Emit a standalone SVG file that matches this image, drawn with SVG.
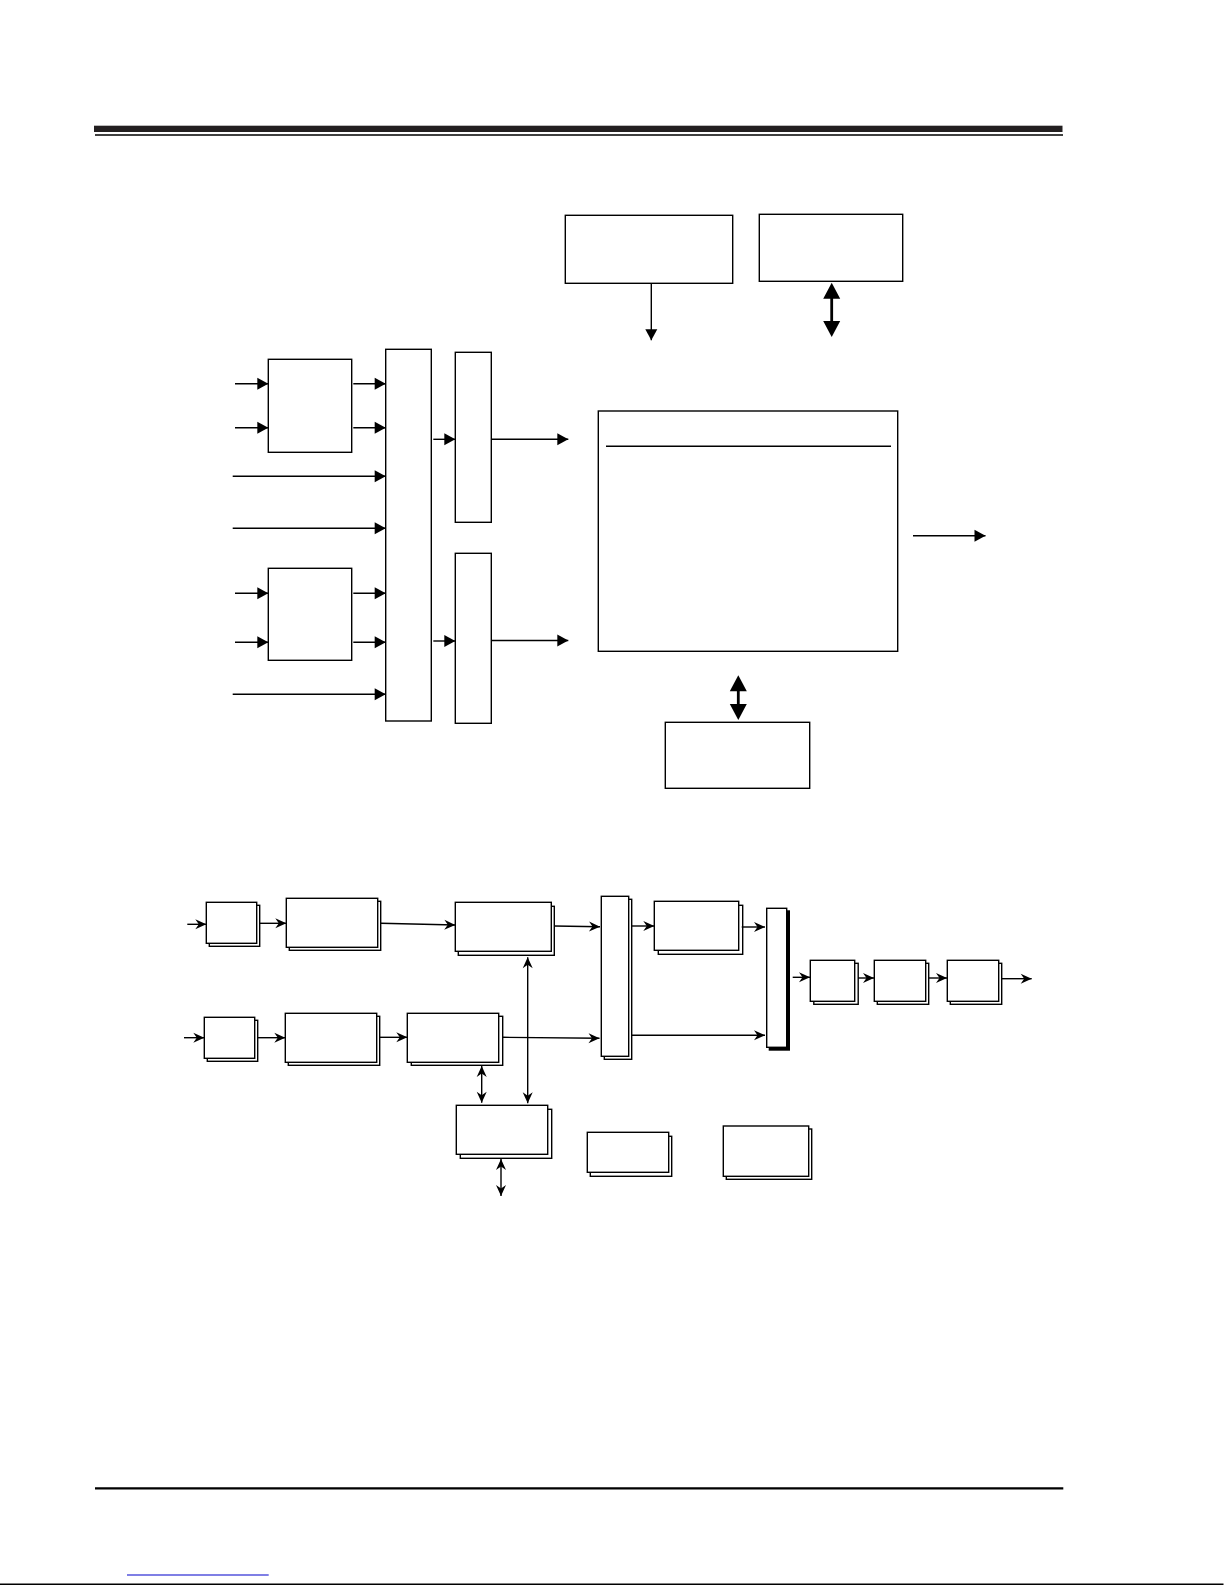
<svg xmlns="http://www.w3.org/2000/svg" width="1225" height="1585" viewBox="0 0 1225 1585">
<style>
.box{fill:#fff;stroke:#000;stroke-width:1.4}
.back{fill:#fff;stroke:#000;stroke-width:1.4}
.ln{fill:none;stroke:#000;stroke-width:1.4}
.thick{fill:none;stroke:#000;stroke-width:2.8}
.a{marker-end:url(#tri)}
.b{marker-end:url(#barb)}
.bb{marker-start:url(#barb);marker-end:url(#barb)}
.tt{marker-start:url(#big);marker-end:url(#big)}
</style>
<defs>
<marker id="tri" markerUnits="userSpaceOnUse" markerWidth="12" markerHeight="12" refX="11" refY="6" orient="auto" overflow="visible">
<path d="M0,0 L11,6 L0,12 z" fill="#000"/>
</marker>
<marker id="big" markerUnits="userSpaceOnUse" markerWidth="17" markerHeight="17" refX="8" refY="8.5" orient="auto-start-reverse" overflow="visible">
<path d="M0,0 L16,8.5 L0,17 z" fill="#000"/>
</marker>
<marker id="barb" markerUnits="userSpaceOnUse" markerWidth="12" markerHeight="10" refX="11" refY="5" orient="auto-start-reverse" overflow="visible">
<path d="M0,0 L11,5 L0,10 L3.5,5 z" fill="#000"/>
</marker>
</defs>
<rect width="1225" height="1585" fill="#fff"/>
<g id="page">
<rect x="94" y="125.7" width="968.5" height="6.3" fill="#231f20"/>
<line x1="95" y1="135" x2="1063" y2="135" stroke="#000" stroke-width="1.4"/>
<line x1="95" y1="1488.3" x2="1063.3" y2="1488.3" stroke="#000" stroke-width="2.2"/>
<line x1="127" y1="1575" x2="268.7" y2="1575" stroke="#0000cc" stroke-width="1.2"/>
<line x1="0" y1="1584.2" x2="1223.5" y2="1584.2" stroke="#000" stroke-width="1.4"/>
</g>
<g id="top-nodes">
<g id="nF"><rect class="box" x="565.3" y="215.3" width="167.4" height="68"/></g>
<g id="nG"><rect class="box" x="759.3" y="214.3" width="143.4" height="67"/></g>
<g id="nH"><rect class="box" x="598.3" y="411" width="299.4" height="240.3"/><line class="ln" x1="606" y1="446.3" x2="891" y2="446.3"/></g>
<g id="nI"><rect class="box" x="665.3" y="722.3" width="144.4" height="66"/></g>
<g id="nA"><rect class="box" x="268.3" y="359.3" width="83.4" height="93"/></g>
<g id="nB"><rect class="box" x="268.3" y="568.3" width="83.4" height="92"/></g>
<g id="nC"><rect class="box" x="385.7" y="349.3" width="45.6" height="371.7"/></g>
<g id="nD"><rect class="box" x="455.3" y="352.3" width="36" height="170"/></g>
<g id="nE"><rect class="box" x="455.3" y="553.3" width="36" height="170"/></g>
</g>
<g id="top-connectors">
<line class="ln a" x1="651.3" y1="283.3" x2="651.3" y2="340.3"/>
<line class="thick tt" x1="831.7" y1="290.7" x2="831.7" y2="329"/>
<line class="thick tt" x1="738.3" y1="683.3" x2="738.3" y2="712"/>
<line class="ln a" x1="913" y1="535.7" x2="985.5" y2="535.7"/>
<line class="ln a" x1="235" y1="383.7" x2="268.3" y2="383.7"/>
<line class="ln a" x1="235" y1="427.7" x2="268.3" y2="427.7"/>
<line class="ln a" x1="353.3" y1="383.7" x2="385.7" y2="383.7"/>
<line class="ln a" x1="353.3" y1="427.7" x2="385.7" y2="427.7"/>
<line class="ln a" x1="232.7" y1="476.3" x2="385.7" y2="476.3"/>
<line class="ln a" x1="232.7" y1="528.3" x2="385.7" y2="528.3"/>
<line class="ln a" x1="235" y1="593.3" x2="268.3" y2="593.3"/>
<line class="ln a" x1="235" y1="642.3" x2="268.3" y2="642.3"/>
<line class="ln a" x1="353.3" y1="593.3" x2="385.7" y2="593.3"/>
<line class="ln a" x1="353.3" y1="642.3" x2="385.7" y2="642.3"/>
<line class="ln a" x1="232.7" y1="694.3" x2="385.7" y2="694.3"/>
<line class="ln a" x1="433.3" y1="439.3" x2="455.3" y2="439.3"/>
<line class="ln a" x1="433.3" y1="641" x2="455.3" y2="641"/>
<line class="ln a" x1="491.3" y1="439.3" x2="568.3" y2="439.3"/>
<line class="ln a" x1="491.3" y1="640.5" x2="568.3" y2="640.5"/>
</g>
<g id="bottom-nodes">
<g id="b1"><rect class="back" x="209.3" y="905.3" width="50.4" height="41"/><rect class="box" x="206.3" y="902.3" width="50.4" height="41"/></g>
<g id="b2"><rect class="back" x="289.3" y="901.3" width="91.4" height="49"/><rect class="box" x="286.3" y="898.3" width="91.4" height="49"/></g>
<g id="b3"><rect class="back" x="458.3" y="906.3" width="96" height="49"/><rect class="box" x="455.3" y="902.3" width="96" height="49"/></g>
<g id="b4"><rect class="back" x="207.3" y="1020.3" width="50.4" height="41"/><rect class="box" x="204.3" y="1017.3" width="50.4" height="41"/></g>
<g id="b5"><rect class="back" x="288.3" y="1016.3" width="91.4" height="49"/><rect class="box" x="285.3" y="1013.3" width="91.4" height="49"/></g>
<g id="b6"><rect class="back" x="411.3" y="1016.3" width="91.4" height="49"/><rect class="box" x="407.3" y="1013.3" width="91.4" height="49"/></g>
<g id="m1"><rect class="back" x="604.3" y="899.3" width="27.4" height="160"/><rect class="box" x="601.3" y="896.3" width="27.4" height="160"/></g>
<g id="b7"><rect class="back" x="658.3" y="905.3" width="84.4" height="49"/><rect class="box" x="654.3" y="901.3" width="84.4" height="49"/></g>
<g id="m2"><rect x="768.7" y="910.3" width="21.3" height="140.4" fill="#000"/><rect class="box" x="766.7" y="908.3" width="20" height="139"/></g>
<g id="b8"><rect class="back" x="813.8" y="963.3" width="44.4" height="41"/><rect class="box" x="810.3" y="960.3" width="44.4" height="41"/></g>
<g id="b9"><rect class="back" x="877.3" y="963.3" width="51.4" height="41"/><rect class="box" x="874.3" y="960.3" width="51.4" height="41"/></g>
<g id="b10"><rect class="back" x="950.3" y="963.3" width="51.4" height="41"/><rect class="box" x="947.3" y="960.3" width="51.4" height="41"/></g>
<g id="b11"><rect class="back" x="460.3" y="1109.3" width="91.4" height="49"/><rect class="box" x="456.3" y="1105.3" width="91.4" height="49"/></g>
<g id="b12"><rect class="back" x="590.3" y="1136.3" width="81.4" height="40"/><rect class="box" x="587.3" y="1132.3" width="81.4" height="40"/></g>
<g id="b13"><rect class="back" x="726.3" y="1129" width="85.4" height="50.3"/><rect class="box" x="723.3" y="1126" width="85.4" height="50.3"/></g>
</g>
<g id="bottom-connectors">
<line class="ln b" x1="187.3" y1="924.3" x2="206.3" y2="924.3"/>
<line class="ln b" x1="259.7" y1="923.3" x2="286.3" y2="923.3"/>
<line class="ln b" x1="380.7" y1="923.3" x2="455.3" y2="925"/>
<line class="ln b" x1="554.3" y1="926" x2="600" y2="926.7"/>
<line class="ln b" x1="184" y1="1037.7" x2="204.3" y2="1037.7"/>
<line class="ln b" x1="257.7" y1="1037.7" x2="285.3" y2="1037.7"/>
<line class="ln b" x1="379.7" y1="1037.3" x2="407.3" y2="1037.3"/>
<line class="ln b" x1="502.7" y1="1037.3" x2="599.5" y2="1038.3"/>
<line class="ln b" x1="631.7" y1="926" x2="654.3" y2="926"/>
<line class="ln b" x1="741.7" y1="927" x2="765" y2="927"/>
<line class="ln b" x1="631.7" y1="1035.3" x2="765" y2="1035.3"/>
<line class="ln b" x1="792.7" y1="977.3" x2="810" y2="977.3"/>
<line class="ln b" x1="858" y1="978" x2="874" y2="978"/>
<line class="ln b" x1="928.7" y1="978" x2="947" y2="978"/>
<line class="ln b" x1="1001.7" y1="978.7" x2="1031.7" y2="978.7"/>
<line class="ln bb" x1="527.7" y1="957.3" x2="527.7" y2="1103.3"/>
<line class="ln bb" x1="481.7" y1="1066" x2="481.7" y2="1102.7"/>
<line class="ln bb" x1="501" y1="1159" x2="501" y2="1196"/>
</g>
</svg>
